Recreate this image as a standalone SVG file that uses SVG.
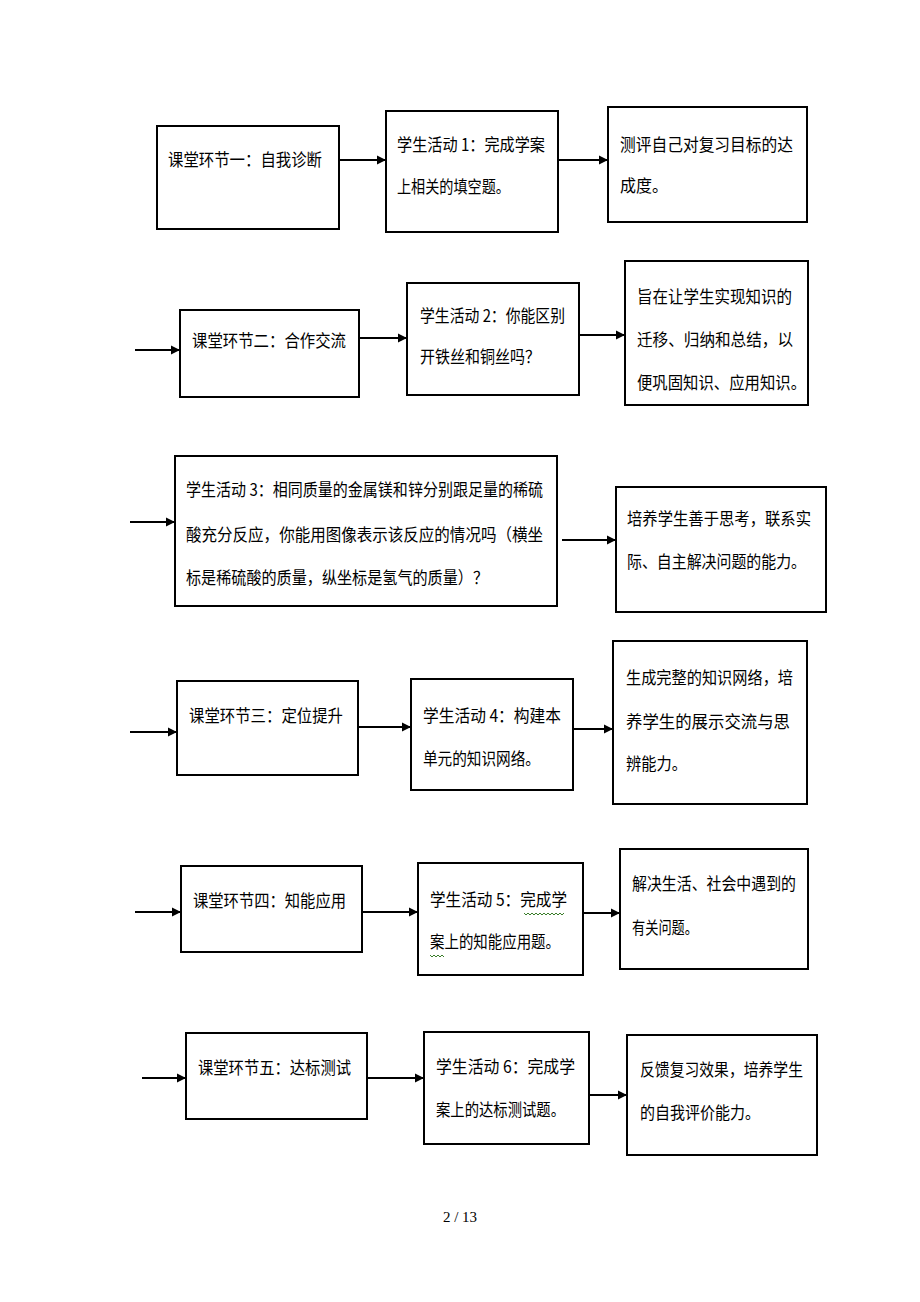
<svg xmlns="http://www.w3.org/2000/svg" width="920" height="1302" viewBox="0 0 920 1302">
<defs>
<marker id="ah" markerWidth="11" markerHeight="11" refX="10" refY="5.5" orient="auto" markerUnits="userSpaceOnUse">
<path d="M1,1 L10,5.5 L1,10 Z" fill="#000"/>
</marker>
<style>
.box{fill:#fff;stroke:#000;stroke-width:2}
.t{font-family:"Noto Sans CJK SC","Liberation Sans",sans-serif;font-size:17px;fill:#000}
.c line{stroke:#000;stroke-width:2;marker-end:url(#ah)}
.ft{font-family:"Liberation Serif",serif;font-size:15px;fill:#000}
</style>
</defs>
<rect width="920" height="1302" fill="#fff"/>
<g class="c" id="connectors">
<line x1="339" y1="160" x2="386" y2="160"/>
<line x1="558" y1="160" x2="608" y2="160"/>
<line x1="135" y1="350" x2="180" y2="350"/>
<line x1="359" y1="338" x2="407" y2="338"/>
<line x1="579" y1="335" x2="625" y2="335"/>
<line x1="130" y1="522" x2="175" y2="522"/>
<line x1="562" y1="540" x2="616" y2="540"/>
<line x1="130" y1="732" x2="177" y2="732"/>
<line x1="358" y1="727" x2="411" y2="727"/>
<line x1="573" y1="729" x2="613" y2="729"/>
<line x1="135" y1="912" x2="181" y2="912"/>
<line x1="362" y1="912" x2="418" y2="912"/>
<line x1="583" y1="913" x2="620" y2="913"/>
<line x1="142" y1="1078" x2="186" y2="1078"/>
<line x1="367" y1="1078" x2="424" y2="1078"/>
<line x1="589" y1="1095" x2="627" y2="1095"/>
</g>
<g id="n1a"><rect class="box" x="157" y="126" width="182" height="103"/>
<text class="t" x="168" y="166" textLength="154" lengthAdjust="spacingAndGlyphs">课堂环节一：自我诊断</text></g>
<g id="n1b"><rect class="box" x="386" y="111" width="172" height="121"/>
<text class="t" x="397" y="151" textLength="148" lengthAdjust="spacingAndGlyphs">学生活动 1：完成学案</text>
<text class="t" x="397" y="193" textLength="113" lengthAdjust="spacingAndGlyphs">上相关的填空题。</text></g>
<g id="n1c"><rect class="box" x="608" y="107" width="199" height="115"/>
<text class="t" x="620" y="151" textLength="173" lengthAdjust="spacingAndGlyphs">测评自己对复习目标的达</text>
<text class="t" x="620" y="192" textLength="48" lengthAdjust="spacingAndGlyphs">成度。</text></g>
<g id="n2a"><rect class="box" x="180" y="310" width="179" height="87"/>
<text class="t" x="192" y="347" textLength="154" lengthAdjust="spacingAndGlyphs">课堂环节二：合作交流</text></g>
<g id="n2b"><rect class="box" x="407" y="283" width="172" height="112"/>
<text class="t" x="420" y="322" textLength="145" lengthAdjust="spacingAndGlyphs">学生活动 2：你能区别</text>
<text class="t" x="420" y="363" textLength="120" lengthAdjust="spacingAndGlyphs">开铁丝和铜丝吗？</text></g>
<g id="n2c"><rect class="box" x="625" y="261" width="183" height="144"/>
<text class="t" x="637" y="303" textLength="155" lengthAdjust="spacingAndGlyphs">旨在让学生实现知识的</text>
<text class="t" x="637" y="346" textLength="156" lengthAdjust="spacingAndGlyphs">迁移、归纳和总结，以</text>
<text class="t" x="637" y="389" textLength="169" lengthAdjust="spacingAndGlyphs">便巩固知识、应用知识。</text></g>
<g id="n3a"><rect class="box" x="175" y="456" width="382" height="150"/>
<text class="t" x="186" y="496" textLength="357" lengthAdjust="spacingAndGlyphs">学生活动 3：相同质量的金属镁和锌分别跟足量的稀硫</text>
<text class="t" x="186" y="541" textLength="357" lengthAdjust="spacingAndGlyphs">酸充分反应，你能用图像表示该反应的情况吗（横坐</text>
<text class="t" x="186" y="584" textLength="302" lengthAdjust="spacingAndGlyphs">标是稀硫酸的质量，纵坐标是氢气的质量）？</text></g>
<g id="n3b"><rect class="box" x="616" y="487" width="210" height="125"/>
<text class="t" x="627" y="525" textLength="184" lengthAdjust="spacingAndGlyphs">培养学生善于思考，联系实</text>
<text class="t" x="627" y="568" textLength="179" lengthAdjust="spacingAndGlyphs">际、自主解决问题的能力。</text></g>
<g id="n4a"><rect class="box" x="177" y="681" width="181" height="94"/>
<text class="t" x="189" y="722" textLength="154" lengthAdjust="spacingAndGlyphs">课堂环节三：定位提升</text></g>
<g id="n4b"><rect class="box" x="411" y="679" width="162" height="111"/>
<text class="t" x="423" y="722" textLength="138" lengthAdjust="spacingAndGlyphs">学生活动 4：构建本</text>
<text class="t" x="423" y="765" textLength="117" lengthAdjust="spacingAndGlyphs">单元的知识网络。</text></g>
<g id="n4c"><rect class="box" x="613" y="641" width="194" height="163"/>
<text class="t" x="626" y="684" textLength="167" lengthAdjust="spacingAndGlyphs">生成完整的知识网络，培</text>
<text class="t" x="626" y="728" textLength="164" lengthAdjust="spacingAndGlyphs">养学生的展示交流与思</text>
<text class="t" x="626" y="770" textLength="61" lengthAdjust="spacingAndGlyphs">辨能力。</text></g>
<g id="n5a"><rect class="box" x="181" y="866" width="181" height="86"/>
<text class="t" x="193" y="907" textLength="153" lengthAdjust="spacingAndGlyphs">课堂环节四：知能应用</text></g>
<g id="n5b"><rect class="box" x="418" y="863" width="165" height="112"/>
<text class="t" x="430" y="906" textLength="137" lengthAdjust="spacingAndGlyphs">学生活动 5：完成学</text>
<text class="t" x="430" y="948" textLength="130" lengthAdjust="spacingAndGlyphs">案上的知能应用题。</text>
<path d="M524,913 l2,2 l2,-2 l2,2 l2,-2 l2,2 l2,-2 l2,2 l2,-2 l2,2 l2,-2 l2,2 l2,-2 l2,2 l2,-2 l2,2 l2,-2 l2,2 l2,-2 l2,2 l2,-2 M430,955 l2,2 l2,-2 l2,2 l2,-2 l2,2 l2,-2 l2,2" fill="none" stroke="#3a7d2a" stroke-width="1"/></g>
<g id="n5c"><rect class="box" x="620" y="849" width="188" height="120"/>
<text class="t" x="632" y="890" textLength="164" lengthAdjust="spacingAndGlyphs">解决生活、社会中遇到的</text>
<text class="t" x="632" y="934" textLength="66" lengthAdjust="spacingAndGlyphs">有关问题。</text></g>
<g id="n6a"><rect class="box" x="186" y="1033" width="181" height="86"/>
<text class="t" x="198" y="1074" textLength="153" lengthAdjust="spacingAndGlyphs">课堂环节五：达标测试</text></g>
<g id="n6b"><rect class="box" x="424" y="1032" width="165" height="112"/>
<text class="t" x="436" y="1073" textLength="139" lengthAdjust="spacingAndGlyphs">学生活动 6：完成学</text>
<text class="t" x="436" y="1116" textLength="129" lengthAdjust="spacingAndGlyphs">案上的达标测试题。</text></g>
<g id="n6c"><rect class="box" x="627" y="1035" width="190" height="120"/>
<text class="t" x="640" y="1076" textLength="163" lengthAdjust="spacingAndGlyphs">反馈复习效果，培养学生</text>
<text class="t" x="640" y="1119" textLength="120" lengthAdjust="spacingAndGlyphs">的自我评价能力。</text></g>
<text class="ft" x="460" y="1222" text-anchor="middle">2 / 13</text>
</svg>
